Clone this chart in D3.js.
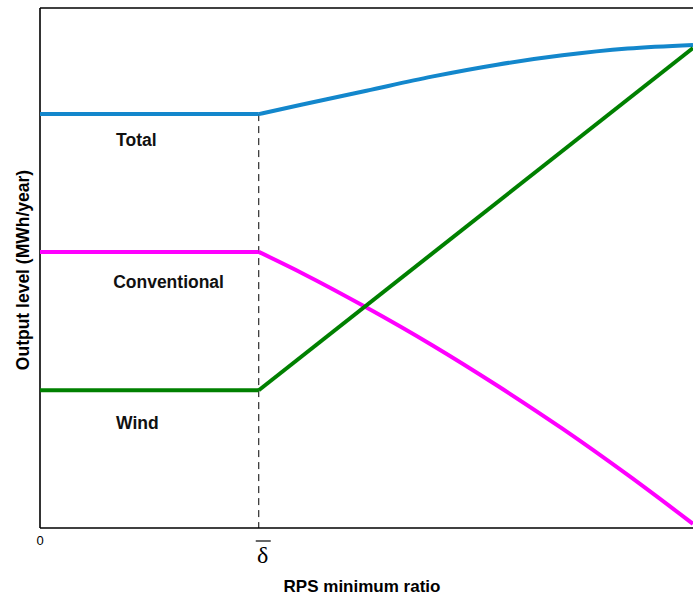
<!DOCTYPE html>
<html>
<head>
<meta charset="utf-8">
<script src="https://cdn.jsdelivr.net/npm/d3@7"></script>
<style>
  html, body { margin: 0; padding: 0; background: #fff; }
  svg { display: block; }
</style>
</head>
<body>
<svg id="chart" width="693" height="601"></svg>
<script>
// ---- data (RPS ratio on x, output level in arbitrary units on y) ----
const deltaBar = 0.335;
const ratio = [0, 0.335, 0.4, 0.5, 0.6, 0.7, 0.8, 0.9, 1.0];
const totalOutput = [79.6, 79.6, 81.4, 84.1, 86.8, 89.1, 90.9, 92.2, 92.9];
const conventionalOutput = [53.1, 53.1, 49.1, 42.4, 35.2, 27.4, 19.1, 10.2, 0.8];
const windRatio = [0, 0.335, 1.0];
const windOutput = [26.5, 26.5, 92.3];
const seriesNames = ["Total", "Conventional", "Wind"];
const seriesColors = ["#1387cc", "#ff00ff", "#008000"];
const labelValues = [73.4, 46.2, 19.1];
const labelRatio = [0.1165, 0.112, 0.1165];

const svg = d3.select("#chart");
const x = d3.scaleLinear().domain([0, 1]).range([40, 693]);
const y = d3.scaleLinear().domain([0, 100]).range([528, 8]);

// frame: left, top, bottom lines
svg.append("line").attr("x1", 40).attr("x2", 40).attr("y1", y(100)).attr("y2", y(0))
  .attr("stroke", "#000").attr("stroke-width", 1.6);
svg.append("line").attr("x1", 40).attr("x2", 700).attr("y1", y(100)).attr("y2", y(100))
  .attr("stroke", "#000").attr("stroke-width", 1.6);
svg.append("line").attr("x1", 40).attr("x2", 700).attr("y1", y(0)).attr("y2", y(0))
  .attr("stroke", "#000").attr("stroke-width", 1.6);

// dashed reference line at delta-bar
svg.append("line")
  .attr("x1", x(deltaBar)).attr("x2", x(deltaBar))
  .attr("y1", y(totalOutput[1])).attr("y2", y(0))
  .attr("stroke", "#000").attr("stroke-width", 1)
  .attr("stroke-dasharray", "7,5");

const series = [
  { xs: ratio, ys: totalOutput },
  { xs: ratio, ys: conventionalOutput },
  { xs: windRatio, ys: windOutput }
];

const flatLine = d3.line().x(d => x(d[0])).y(d => y(d[1]));
const curveLine = d3.line().x(d => x(d[0])).y(d => y(d[1])).curve(d3.curveMonotoneX);

series.forEach((s, i) => {
  const pts = s.xs.map((v, j) => [v, s.ys[j]]);
  const k = s.xs.indexOf(deltaBar);
  svg.append("path").datum(pts.slice(0, k + 1))
    .attr("d", flatLine).attr("fill", "none")
    .attr("stroke", seriesColors[i]).attr("stroke-width", 4);
  svg.append("path").datum(pts.slice(k))
    .attr("d", curveLine).attr("fill", "none")
    .attr("stroke", seriesColors[i]).attr("stroke-width", 4);
});

// series labels
seriesNames.forEach((n, i) => {
  svg.append("text")
    .attr("x", x(labelRatio[i])).attr("y", y(labelValues[i]))
    .attr("font-family", "Liberation Sans, Arial, sans-serif")
    .attr("font-weight", "bold").attr("font-size", 17.5)
    .attr("fill", "#111")
    .text(n);
});

// x tick labels
svg.append("text").attr("x", x(0)).attr("y", 545)
  .attr("text-anchor", "middle")
  .attr("font-family", "Liberation Sans, Arial, sans-serif")
  .attr("font-size", 13).text("0");

svg.append("text").attr("x", x(deltaBar) + 4).attr("y", 563)
  .attr("text-anchor", "middle")
  .attr("font-family", "Liberation Serif, Times New Roman, serif")
  .attr("font-size", 24).text("δ");
svg.append("line")
  .attr("x1", x(deltaBar) - 3).attr("x2", x(deltaBar) + 12)
  .attr("y1", 541).attr("y2", 541)
  .attr("stroke", "#000").attr("stroke-width", 1.2);

// axis titles
svg.append("text").attr("x", 362).attr("y", 592)
  .attr("text-anchor", "middle")
  .attr("font-family", "Liberation Sans, Arial, sans-serif")
  .attr("font-weight", "bold").attr("font-size", 17)
  .text("RPS minimum ratio");

svg.append("text")
  .attr("transform", "translate(29,270) rotate(-90)")
  .attr("text-anchor", "middle")
  .attr("font-family", "Liberation Sans, Arial, sans-serif")
  .attr("font-weight", "bold").attr("font-size", 17.5)
  .text("Output level (MWh/year)");
</script>
</body>
</html>
